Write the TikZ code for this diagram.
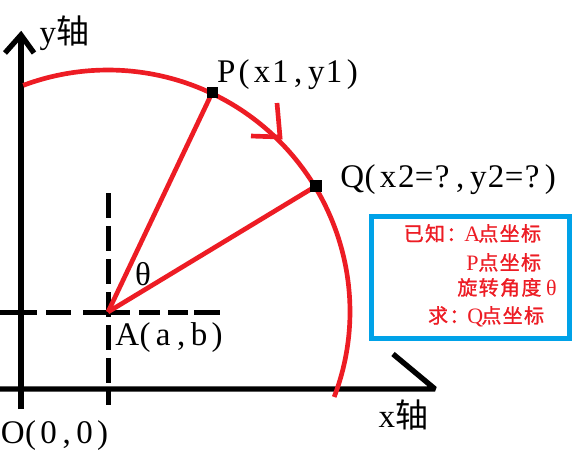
\documentclass[tikz,border=0pt]{standalone}
\usepackage{fontspec}
\setmainfont{Liberation Serif}
\newfontfamily\cjk{Noto Sans CJK SC}
\newfontfamily\cjkbox{Noto Sans CJK SC}[FakeBold=1.2]
\usetikzlibrary{calc}
\definecolor{pred}{HTML}{ED1C24}
\definecolor{pblue}{HTML}{00A2E8}
\makeatletter
\newcommand\monotext[2]{\def\mono@w{#1}\@tfor\mono@c:=#2\do{\makebox[\mono@w][c]{\mono@c}}}
\makeatother
\newcommand\latcell[1]{\makebox[8pt][c]{\rmfamily\fontsize{16.5pt}{18pt}\selectfont #1}}
\begin{document}
\begin{tikzpicture}[x=0.75pt,y=-0.75pt,
  axis/.style={line width=4pt, black},
  dashline/.style={line width=3.75pt, black},
  redline/.style={line width=3.5pt, pred},
  ptmark/.style={fill=black, inner sep=0pt, minimum size=8.5pt, rectangle},
  lbl/.style={inner sep=0pt, anchor=base west, font=\fontsize{24.75pt}{28pt}\selectfont},
  boxtxt/.style={inner sep=0pt, anchor=base east, text=pred, font=\fontsize{15pt}{17pt}\selectfont\cjkbox},
  boxline/.style={draw=pblue, line width=3.75pt, inner sep=0pt, minimum width=148.5pt, minimum height=91.5pt}
]
\useasboundingbox[fill=white] (0,0) rectangle (588,455);

% coordinates
\coordinate (A) at (108,312);
\coordinate (yb) at (21,409);
\coordinate (yt) at (21,35);
\coordinate (ybl) at (5,53);
\coordinate (ybr) at (34,53);
\coordinate (xl) at (0,389);
\coordinate (xr) at (435,389);
\coordinate (xbar) at (393,354);
\coordinate (vt) at (108,193);
\coordinate (vb) at (108,405);
\coordinate (hl) at (0,312);
\coordinate (hr) at (220,312);
\coordinate (P) at ($(A)+(-64.6:243)$);
\coordinate (Q) at ($(A)+(-31.2:243)$);
\coordinate (T) at (280,137);
\coordinate (Tb1) at (277,103);
\coordinate (Tb2) at (251,136);

% axes
\draw[axis] (yb) -- (yt);
\draw[axis, line join=miter] (ybl) -- (yt) -- (ybr);
\draw[axis, line join=bevel] (xl) -- (xr) -- (xbar);

% dashed guides
\draw[dashline, dash pattern=on 18.75pt off 6pt] (vt) -- (vb);
\draw[dashline, dash pattern=on 27.75pt off 6.75pt on 18.75pt off 9pt on 35.25pt off 6.75pt on 15.75pt off 6pt on 15pt off 4.5pt on 22.5pt off 10pt] (hl) -- (hr);

% circle arc
\draw[redline] (A) ++(-110.5:242) arc[start angle=-110.5, end angle=-5, radius=242]
  arc[start angle=-5, end angle=21, radius=238];
\draw[redline, line join=miter] (Tb1) -- (T) -- (Tb2);

% radii
\draw[redline] (A) -- (P);
\draw[redline] (A) -- (Q);

% points
\node[ptmark] (Pm) at (P) {};
\node[ptmark] (Qm) at (Q) {};

% labels
\node[lbl] (ylbl) at (38.5,43) {\monotext{13.5pt}{y}{\cjk 轴}};
\node[lbl] (xlbl) at (377.5,427) {\monotext{13.5pt}{x}{\cjk 轴}};
\node[lbl] (Plbl) at (217,82) {\monotext{13.5pt}{P(x1,y1)}};
\node[lbl] (Qlbl) at (343,187) {\monotext{13.5pt}{Q(x2=?,y2=?)}};
\node[lbl] (Albl) at (118,345) {\monotext{13.5pt}{A(a,b)}};
\node[lbl] (Olbl) at (3.5,443) {\monotext{13.5pt}{O(0,0)}};
\node[inner sep=0pt, font=\fontsize{24.75pt}{28pt}\selectfont] (th) at (143,274) {θ};

% info box
\node[boxline] (box) at (470.5,277.5) {};
\node[boxtxt] (t1) at (542,241) {\monotext{16pt}{已知：}\latcell{A}\monotext{16pt}{点坐标}};
\node[boxtxt] (t2) at (542,270) {\latcell{P}\monotext{16pt}{点坐标}};
\node[boxtxt] (t3) at (557,295) {\monotext{16pt}{旋转角度}\hspace{3pt}\latcell{θ}};
\node[boxtxt] (t4) at (545,323) {\monotext{16pt}{求：}\latcell{Q}\monotext{16pt}{点坐标}};
\end{tikzpicture}
\end{document}
